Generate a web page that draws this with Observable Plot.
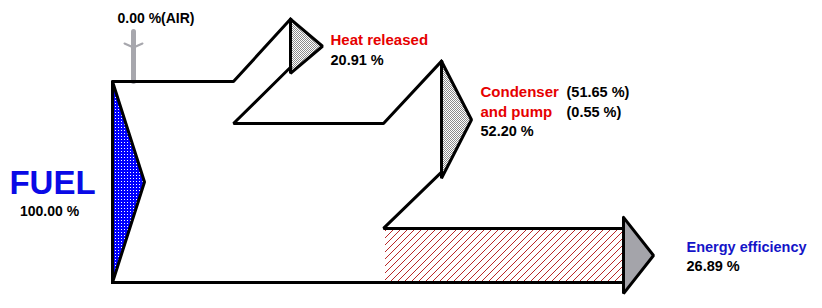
<!DOCTYPE html>
<html><head><meta charset="utf-8">
<script src="https://cdn.jsdelivr.net/npm/d3@7"></script>
<script src="https://cdn.jsdelivr.net/npm/@observablehq/plot@0.6"></script>
<style>
body{margin:0;background:#fff;}
#chart{width:822px;height:308px;}
</style>
</head><body><div id="chart"></div>
<script>
// ---- data (percent of fuel energy) ----
const flowNames  = ["FUEL", "AIR", "Heat released", "Condenser and pump", "Energy efficiency"];
const flowValues = [100.00, 0.00, 20.91, 52.20, 26.89];
const condenserParts  = ["Condenser", "and pump"];
const condenserValues = [51.65, 0.55];

const fmt = v => d3.format(".2f")(v) + " %";
const [fuel, air, heat, cond, eff] = flowValues;

// ---- layout (x in px; y in percent of fuel flow) ----
const x0 = 112, split1 = 233, heatHead = 290, split2 = 383, condHead = 441, effHead = 623;
const riseTop = 31, riseBot = 28, headExt = 3, tipW = 31, effExt = 5.5;
const airX = 133;

const heatTop = 0 - riseTop, heatLow = heat - riseBot, heatHeadBot = heatLow + headExt;
const heatTip = (heatTop + heatHeadBot) / 2;
const condTop = heat - riseTop, condLow = heat + cond - riseBot, condHeadBot = condLow + headExt;
const condTip = (condTop + condHeadBot) / 2;
const effTopY = heat + cond, effBotY = fuel;
const effTip = (effTopY + effBotY) / 2;

const outline = [
  [[x0, fuel], [x0, 0], [split1, 0], [heatHead, heatTop]],
  [[heatHead, heatLow], [split1, heat], [split2, heat], [condHead, condTop]],
  [[condHead, condLow], [split2, heat + cond], [effHead, heat + cond]],
  [[x0, fuel], [effHead, fuel]]
].flatMap((pts, i) => pts.map(([x, y]) => ({id: i, x, y})));

function tri(base, top, bot, tip) {
  return {
    area: [{x: base, y1: top, y2: bot}, {x: base + tip.w, y1: tip.y, y2: tip.y}],
    line: [[base, top], [base + tip.w, tip.y], [base, bot], [base, top]].map(([x, y]) => ({x, y}))
  };
}
const fuelTri = tri(x0, 0, fuel, {w: 32, y: fuel / 2});
const heatTri = tri(heatHead, heatTop, heatHeadBot, {w: tipW + 1, y: heatTip});
const condTri = tri(condHead, condTop, condHeadBot, {w: tipW - 1, y: condTip});
const effTri  = tri(effHead, effTopY - effExt, effBotY + effExt, {w: 30, y: effTip});

const font = "Arial, 'Liberation Sans', sans-serif";
const red = "#e60000";
const txt = (data, o) => Plot.text(data, {x: "x", y: "y", text: "t", textAnchor: "start", lineAnchor: "bottom",
  fontFamily: font, fontWeight: "bold", fontSize: 14.5, ...o});

const heatLX = heatHead + tipW + 9, condLX = condHead + tipW + 8, effLX = effHead + 63;

const plot = Plot.plot({
  width: 822, height: 308, margin: 0,
  x: {domain: [0, 822], range: [0, 822], axis: null},
  y: {domain: [0, 100], range: [81, 282], axis: null},
  style: {background: "white", overflow: "visible"},
  marks: [
    // hatched efficiency band
    Plot.rect([{x1: split2 + 2, x2: effHead, y1: effTopY, y2: effBotY}], {x1: "x1", x2: "x2", y1: "y1", y2: "y2", fill: "url(#hatch)"}),
    // air inlet
    Plot.line([{x: airX, y: -24.9}, {x: airX, y: 0}], {x: "x", y: "y", stroke: "#a7a7ad", strokeWidth: 5, strokeLinecap: "round"}),
    Plot.line([{x: airX - 9, y: -18.9}, {x: airX, y: -16.9}, {x: airX + 9, y: -18.9}], {x: "x", y: "y", stroke: "#a7a7ad", strokeWidth: 2}),
    // arrow heads
    Plot.areaY(fuelTri.area, {x: "x", y1: "y1", y2: "y2", fill: "url(#dots)"}),
    Plot.areaY(heatTri.area, {x: "x", y1: "y1", y2: "y2", fill: "url(#checker)"}),
    Plot.areaY(condTri.area, {x: "x", y1: "y1", y2: "y2", fill: "url(#checker)"}),
    Plot.areaY(effTri.area, {x: "x", y1: "y1", y2: "y2", fill: "#a4a4aa"}),
    // outlines
    Plot.line(outline, {x: "x", y: "y", z: "id", stroke: "black", strokeWidth: 3, strokeLinejoin: "miter", strokeLinecap: "square"}),
    ...[fuelTri, heatTri, condTri, effTri].map(t => Plot.line(t.line, {x: "x", y: "y", stroke: "black", strokeWidth: 3, strokeLinejoin: "miter"})),
    // labels
    txt([{x: airX - 16, y: -24.9, t: fmt(air) + "(AIR)"}], {dy: -8, fill: "black", fontSize: 14}),
    txt([{x: x0 - 60, y: fuel / 2, t: flowNames[0]}], {textAnchor: "middle", dy: 11.5, fill: "#0a0ae6", fontSize: 33}),
    txt([{x: x0 - 63, y: fuel / 2, t: fmt(fuel)}], {textAnchor: "middle", dy: 33.5, fill: "black", fontSize: 14}),
    txt([{x: heatLX, y: heatTip, t: flowNames[2]}], {dy: -1.5, fill: red, fontSize: 15}),
    txt([{x: heatLX, y: heatTip, t: fmt(heat)}], {dy: 18.5, fill: "black"}),
    txt([{x: condLX, y: condTip, t: condenserParts[0]}], {dy: -22.5, fill: red, fontSize: 15}),
    txt([{x: condLX, y: condTip, t: condenserParts[1]}], {dy: -2.5, fill: red, fontSize: 15}),
    txt([{x: condLX + 86, y: condTip, t: "(" + fmt(condenserValues[0]) + ")"}], {dy: -22.5, fill: "black"}),
    txt([{x: condLX + 86, y: condTip, t: "(" + fmt(condenserValues[1]) + ")"}], {dy: -2.5, fill: "black"}),
    txt([{x: condLX, y: condTip, t: fmt(cond)}], {dy: 16, fill: "black"}),
    txt([{x: effLX, y: effTip, t: flowNames[4]}], {dy: -3, fill: "#1414c8"}),
    txt([{x: effLX, y: effTip, t: fmt(eff)}], {dy: 16, fill: "black"})
  ]
});

// patterns
const svg = d3.select(plot);
const defs = svg.insert("defs", ":first-child");
const hatch = defs.append("pattern").attr("id", "hatch").attr("patternUnits", "userSpaceOnUse").attr("width", 7).attr("height", 7);
hatch.append("rect").attr("width", 7).attr("height", 7).attr("fill", "white");
hatch.append("path").attr("d", "M-1,1 L1,-1 M0,7 L7,0 M6,8 L8,6").attr("stroke", "#b01010").attr("stroke-width", 0.9);
const dots = defs.append("pattern").attr("id", "dots").attr("patternUnits", "userSpaceOnUse").attr("width", 3).attr("height", 3);
dots.append("rect").attr("width", 3).attr("height", 3).attr("fill", "#0000ff");
dots.append("rect").attr("x", 1).attr("y", 1).attr("width", 1).attr("height", 1).attr("fill", "white");
const chk = defs.append("pattern").attr("id", "checker").attr("patternUnits", "userSpaceOnUse").attr("width", 2).attr("height", 2);
chk.append("rect").attr("width", 2).attr("height", 2).attr("fill", "white");
chk.append("rect").attr("width", 1).attr("height", 1).attr("fill", "#8a8a8a");
chk.append("rect").attr("x", 1).attr("y", 1).attr("width", 1).attr("height", 1).attr("fill", "#8a8a8a");

document.getElementById("chart").append(plot);
</script>
</body></html>
